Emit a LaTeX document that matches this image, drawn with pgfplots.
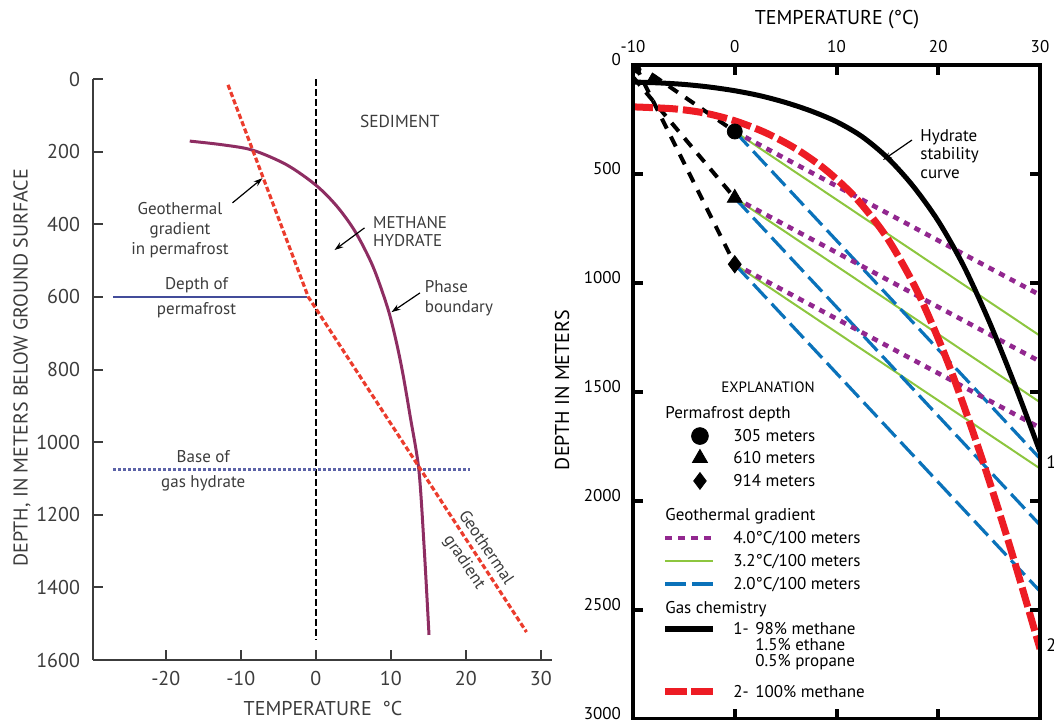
\documentclass[border=0pt]{standalone}
\usepackage{fontspec}
\setmainfont{PT Sans}
\usepackage{pgfplots}
\pgfplotsset{compat=1.18}
\usetikzlibrary{arrows.meta}

\definecolor{axgray}{HTML}{3C3C3C}
\definecolor{cPhase}{HTML}{8E2D62}
\definecolor{cGeo}{HTML}{EB3C2D}
\definecolor{cPerm}{HTML}{434C9A}
\definecolor{cBase}{HTML}{5C63A8}
\definecolor{cPurple}{HTML}{92278F}
\definecolor{cGreen}{HTML}{8DC63F}
\definecolor{cBlue}{HTML}{0A72BA}
\definecolor{cRed}{HTML}{ED1C24}

\newcommand{\fs}[1]{\fontsize{#1}{#1}\selectfont}
\tikzset{pointer/.style={-{Stealth[length=4.5pt,width=3pt]}, line width=0.6pt, black}}

\begin{document}
\begin{tikzpicture}
\useasboundingbox (0,0) rectangle (527pt,359.5pt);

% ---- left panel: permafrost setting
\begin{axis}[
  at={(46.5pt,29.5pt)}, anchor=south west,
  scale only axis, width=229.5pt, height=290.5pt,
  xmin=-29.7, xmax=31.5, ymin=0, ymax=1600, y dir=reverse,
  axis x line*=bottom, axis y line*=left,
  axis line style={axgray, line width=1pt},
  xtick={-20,-10,0,10,20,30}, xticklabels={-20,-10,0,10,20,30},
  ytick={0,200,...,1600}, yticklabels={0,200,400,600,800,1000,1200,1400,1600},
  tick align=inside, major tick length=5pt,
  tick style={axgray, line width=1pt},
  xticklabel style={font=\fs{10}, text=axgray, yshift=-2pt},
  yticklabel style={font=\fs{10}, text=axgray, xshift=-3pt},
  clip=false,
]
\addplot[black, line width=1pt, dash pattern=on 3.5pt off 1.5pt] coordinates {(0,0) (0,1545)};
\addplot[cPerm, line width=1.1pt] coordinates {(-27,600) (-1.2,600)};
\addplot[cBase, line width=1.2pt, dash pattern=on 1.2pt off 1.3pt] coordinates {(-27,1075) (20.5,1075)};
\addplot[cPhase, line width=1.5pt, smooth] coordinates {
  (-16.8,171) (-12.5,181) (-8.4,196) (-3.9,236) (0,292) (2.8,350) (5.25,420)
  (7.6,515) (9.58,630) (10.7,720) (11.6,810) (12.6,930) (13.75,1077)
  (14.45,1289) (15.1,1531)};
\addplot[cGeo, line width=1.6pt, dash pattern=on 2.6pt off 1.3pt] coordinates {(-11.7,16) (-1,600) (28.1,1523)};

\node[font=\fs{8.7}, text=axgray] at (axis cs:11.2,118) {SEDIMENT};
\node[font=\fontsize{8.5}{9}\selectfont, text=axgray, anchor=west, align=left, inner sep=0pt] at (axis cs:7.6,419) {METHANE\\HYDRATE};
\draw[pointer] (axis cs:6.5,410) -- (axis cs:2.5,471);
\node[font=\fontsize{8.5}{10}\selectfont, text=axgray, anchor=west, align=left, inner sep=0pt] at (axis cs:14.5,603) {Phase\\boundary};
\draw[pointer] (axis cs:13.9,589) -- (axis cs:10.1,642);
\node[font=\fontsize{8.5}{10}\selectfont, text=axgray, align=center, inner sep=0pt] at (axis cs:-18.1,416) {Geothermal\\gradient\\in permafrost};
\draw[pointer] (axis cs:-11.1,341) -- (axis cs:-7.1,273);
\node[font=\fs{8.5}, text=axgray, inner sep=0pt] at (axis cs:-15.9,567) {Depth of};
\node[font=\fs{8.5}, text=axgray, inner sep=0pt] at (axis cs:-15.9,636) {permafrost};
\node[font=\fs{8.5}, text=axgray, inner sep=0pt] at (axis cs:-15.0,1041) {Base of};
\node[font=\fs{8.5}, text=axgray, inner sep=0pt] at (axis cs:-15.0,1113) {gas hydrate};
\node[font=\fontsize{8.5}{13}\selectfont, text=axgray, align=center, rotate=-56, inner sep=0pt] at (axis cs:21.2,1311) {Geothermal\\gradient};
\end{axis}

% ---- right panel: stability curves
\begin{axis}[
  at={(316.5pt,0pt)}, anchor=south west,
  scale only axis, width=203.5pt, height=327pt,
  xmin=-10, xmax=30, ymin=0, ymax=3000, y dir=reverse,
  axis line style={black, line width=2pt},
  xtick={-10,0,10,20,30}, xticklabels={-10,0,10,20,30},
  ytick={0,500,...,3000}, yticklabels={0,500,1000,1500,2000,2500,3000},
  xtick pos=both, ytick pos=both,
  xticklabel pos=top, yticklabel pos=left,
  tick align=inside, major tick length=5pt,
  tick style={black, line width=2pt},
  xticklabel style={font=\fs{8.5}, yshift=2.5pt},
  yticklabel style={font=\fs{8.5}, xshift=-2.5pt, yshift=2.5pt},
  axis on top,
]
% permafrost geotherms
\addplot[black, line width=2pt, dash pattern=on 5.5pt off 4.5pt] coordinates {(-8.1,45) (0,305)};
\addplot[black, line width=2pt, dash pattern=on 5.5pt off 4.5pt] coordinates {(-10,55) (0,610)};
\addplot[black, line width=2pt, dash pattern=on 5.5pt off 4.5pt] coordinates {(-9.8,0) (0,914)};
% geotherms below permafrost
\addplot[cGreen, line width=1pt] coordinates {(0,305) (30,1242)};
\addplot[cGreen, line width=1pt] coordinates {(0,610) (30,1547)};
\addplot[cGreen, line width=1pt] coordinates {(0,914) (30,1851)};
\addplot[cBlue, line width=1.6pt, dash pattern=on 10pt off 3.5pt] coordinates {(0,305) (30,1805)};
\addplot[cBlue, line width=1.6pt, dash pattern=on 10pt off 3.5pt] coordinates {(0,610) (30,2110)};
\addplot[cBlue, line width=1.6pt, dash pattern=on 10pt off 3.5pt] coordinates {(0,914) (30,2414)};
\addplot[cPurple, line width=2.3pt, dash pattern=on 3pt off 3pt] coordinates {(0,305) (30,1055)};
\addplot[cPurple, line width=2.3pt, dash pattern=on 3pt off 3pt] coordinates {(0,610) (30,1360)};
\addplot[cPurple, line width=2.3pt, dash pattern=on 3pt off 3pt] coordinates {(0,914) (30,1664)};
% hydrate stability curves
\addplot[black, line width=2.5pt, smooth] coordinates {
  (-10,78) (-7.5,82) (-5,89) (-2.5,101) (0,118) (2.5,141) (5,172) (7.5,211)
  (10,260) (12.5,328) (15,425) (17.5,554) (20,716) (22.5,922) (25,1176)
  (27.5,1464) (30,1774)};
\addplot[cRed, line width=3.5pt, smooth, dash pattern=on 10pt off 2.5pt] coordinates {
  (-10,192) (-6,201) (-3,220) (0,256) (3,310) (6,384) (9,483) (12,615)
  (15,795) (18,1044) (21,1371) (24,1764) (27,2202) (30,2678)};
% permafrost depth markers
\addplot[only marks, mark=*, mark size=3.75pt, black] coordinates {(0,305)};
\addplot[only marks, mark=triangle*, mark size=4.3pt, black] coordinates {(0,610)};
\addplot[only marks, mark=diamond*, mark size=4.3pt, black] coordinates {(0,914)};
\addplot[only marks, mark=*, mark size=2pt, black] coordinates {(-9.6,20)};
\addplot[only marks, mark=triangle*, mark size=2.5pt, black] coordinates {(-8.1,60)};
% explanation swatches
\addplot[only marks, mark=*, mark size=4.2pt, black, forget plot] coordinates {(-3.42,1702)};
\addplot[only marks, mark=triangle*, mark size=4.3pt, black, forget plot] coordinates {(-3.42,1803)};
\addplot[only marks, mark=diamond*, mark size=4.2pt, black, forget plot] coordinates {(-3.42,1908)};
\addplot[cPurple, line width=2.3pt, dash pattern=on 3.5pt off 3pt, forget plot] coordinates {(-6.85,2170) (-2.15,2170)};
\addplot[cGreen, line width=1.3pt, forget plot] coordinates {(-6.85,2275) (-2.15,2275)};
\addplot[cBlue, line width=1.6pt, dash pattern=on 10.5pt off 3pt, forget plot] coordinates {(-6.85,2381) (-2.15,2381)};
\addplot[black, line width=3pt, forget plot] coordinates {(-6.85,2587) (-2.15,2587)};
\addplot[cRed, line width=3.5pt, dash pattern=on 11pt off 2pt, forget plot] coordinates {(-6.85,2876) (-2.15,2876)};
\end{axis}

% axis titles, left panel
\node[font=\fs{10}, text=axgray, rotate=90] at (11pt,175.5pt) {DEPTH, IN METERS BELOW GROUND SURFACE};
\node[font=\fs{10}, text=axgray] at (161.5pt,5.5pt) {TEMPERATURE\ \ °C};

% axis titles, right panel
\node[font=\fs{10}] at (418.5pt,349.5pt) {TEMPERATURE (°C)};
\node[font=\fs{10}, rotate=90] at (281pt,164.5pt) {DEPTH IN METERS};
\node[font=\fontsize{8.5}{9.3}\selectfont, anchor=west, align=left, inner sep=0pt] at (460pt,282.5pt) {Hydrate\\stability\\curve};
\draw[pointer] (456pt,289.5pt) -- (441.5pt,279.5pt);
\node[font=\fs{9}, anchor=west, inner sep=0pt] at (523pt,128.5pt) {1};
\node[font=\fs{9}, anchor=west, inner sep=0pt] at (523pt,37pt) {2};

% explanation text
\begin{scope}[every node/.style={font=\fs{8.5}, anchor=mid west, inner sep=0pt}]
\node[font=\fs{7.5}, anchor=center] at (384pt,166pt) {EXPLANATION};
\node at (332.5pt,153pt) {Permafrost depth};
\node at (366.5pt,141.5pt) {305 meters};
\node at (366.5pt,130.5pt) {610 meters};
\node at (366.5pt,119pt) {914 meters};
\node at (332.5pt,102pt) {Geothermal gradient};
\node at (366.5pt,90.5pt) {4.0°C/100 meters};
\node at (366.5pt,79pt) {3.2°C/100 meters};
\node at (366.5pt,67.5pt) {2.0°C/100 meters};
\node at (332.5pt,55.5pt) {Gas chemistry};
\node at (366.5pt,45pt) {1-};
\node at (377.5pt,45pt) {98\% methane};
\node at (377.5pt,37pt) {1.5\% ethane};
\node at (377.5pt,29pt) {0.5\% propane};
\node at (366.5pt,13.5pt) {2-};
\node at (377.5pt,13.5pt) {100\% methane};
\end{scope}
\end{tikzpicture}
\end{document}
